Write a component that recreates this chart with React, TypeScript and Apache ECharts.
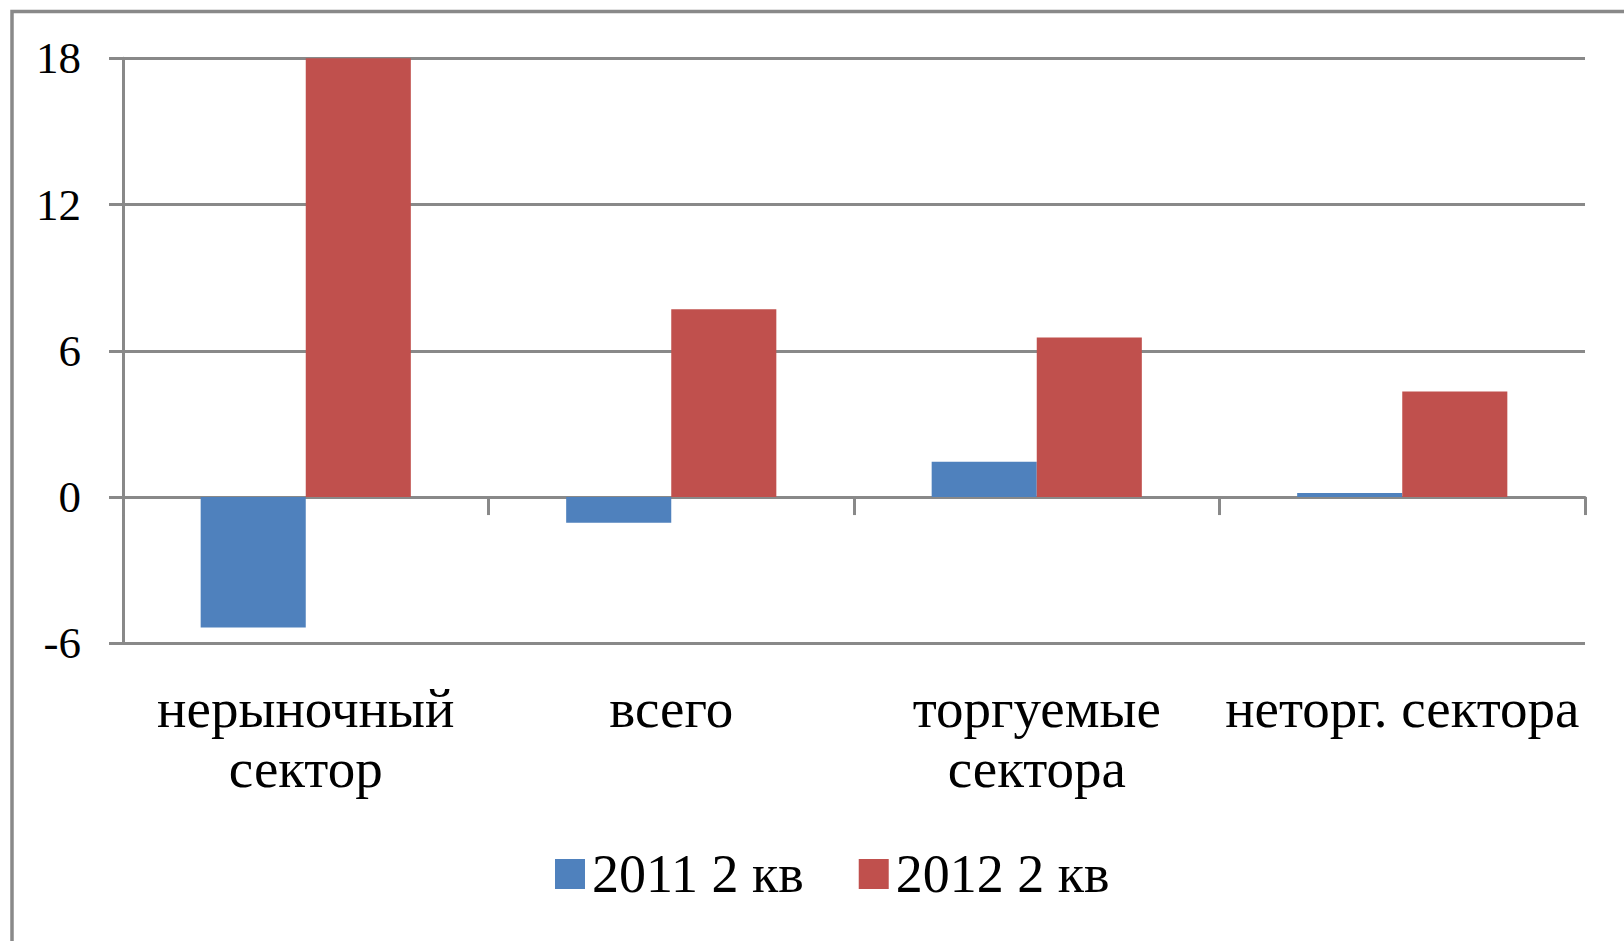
import React, { useEffect, useRef } from "react";
import * as echarts from "echarts";

const categories = ["нерыночный\nсектор", "всего", "торгуемые\nсектора", "неторг. сектора"];
const seriesNames = ["2011 2 кв", "2012 2 кв"];
const values2011 = [-5.35, -1.05, 1.45, 0.17];
const values2012 = [18, 7.7, 6.55, 4.33];
const yMin = -6;
const yMax = 18;
const yStep = 6;

const GRAY = "#898989";
const FONT = "'Liberation Serif', 'Times New Roman', serif";

export default function App() {
  const ref = useRef<HTMLDivElement>(null);
  useEffect(() => {
    if (!ref.current) return;
    const chart = echarts.init(ref.current, undefined, { renderer: "svg" });
    chart.setOption({
      animation: false,
      backgroundColor: "#ffffff",
      color: ["#4F81BD", "#C0504D"],
      graphic: [
        {
          type: "rect",
          shape: { x: 12, y: 11.5, width: 1700, height: 1000 },
          style: { fill: "none", stroke: GRAY, lineWidth: 3.5 },
          silent: true,
        },
      ],
      grid: { left: 123, right: 39, top: 58.3, bottom: 297.7, containLabel: false },
      legend: {
        data: seriesNames,
        left: 555,
        top: 847,
        padding: 0,
        itemWidth: 30,
        itemHeight: 30,
        itemGap: 55,
        icon: "rect",
        textStyle: { fontFamily: FONT, fontSize: 54, color: "#000000", padding: [0, 0, 0, 2] },
      },
      xAxis: {
        type: "category",
        data: categories,
        position: "bottom",
        axisLine: { show: true, onZero: true, lineStyle: { color: GRAY, width: 3 } },
        axisTick: { show: true, length: 18, alignWithLabel: false, lineStyle: { color: GRAY, width: 3 } },
        axisLabel: {
          interval: 0,
          margin: 35,
          fontFamily: FONT,
          fontSize: 55,
          lineHeight: 60,
          color: "#000000",
        },
        splitLine: { show: false },
      },
      yAxis: {
        type: "value",
        min: yMin,
        max: yMax,
        interval: yStep,
        axisLine: { show: true, lineStyle: { color: GRAY, width: 3 } },
        axisTick: { show: true, length: 14, lineStyle: { color: GRAY, width: 3 } },
        axisLabel: { margin: 42, fontFamily: FONT, fontSize: 45, color: "#000000" },
        splitLine: { show: true, lineStyle: { color: GRAY, width: 3 } },
      },
      series: [
        {
          name: seriesNames[0],
          type: "bar",
          data: values2011,
          barGap: "0%",
          barCategoryGap: "42.5%",
        },
        {
          name: seriesNames[1],
          type: "bar",
          data: values2012,
          barGap: "0%",
          barCategoryGap: "42.5%",
        },
      ],
    });
    return () => chart.dispose();
  }, []);
  return (
    <div
      ref={ref}
      style={{ position: "fixed", left: 0, top: 0, width: 1624, height: 941, background: "#fff" }}
    />
  );
}
